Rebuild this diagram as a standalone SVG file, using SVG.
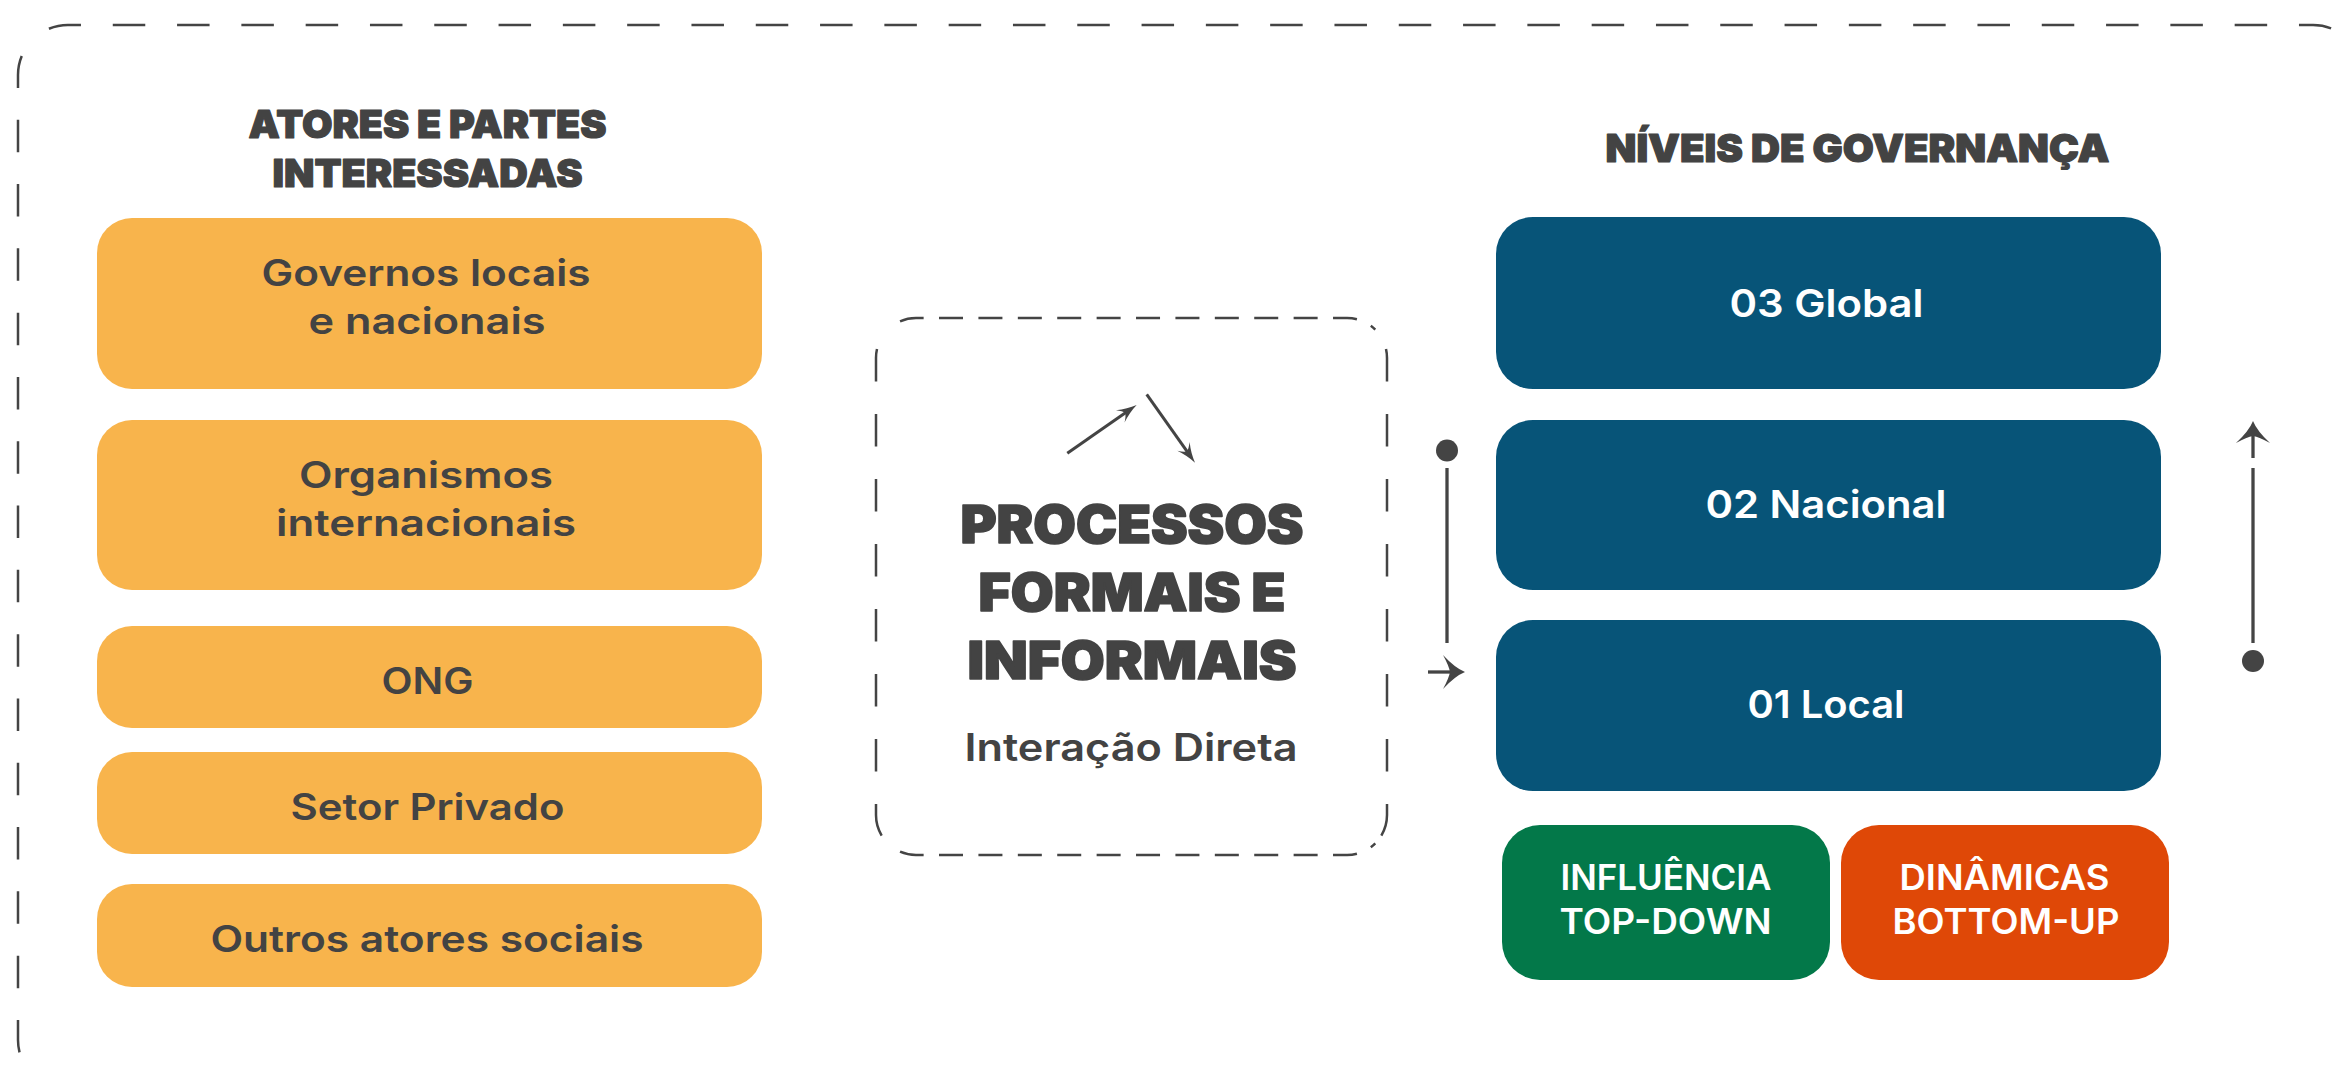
<svg xmlns="http://www.w3.org/2000/svg" width="2343" height="1079" viewBox="0 0 2343 1079">
  <style>
    text { font-family: Inter, "Noto Sans", "DejaVu Sans", sans-serif; }
    .title { font-size: 39px; font-weight: 900; fill: #434343; stroke: #434343; stroke-width: 1.2; stroke-linejoin: round; }
    .big { font-size: 52px; font-weight: 900; fill: #434343; stroke: #434343; stroke-width: 1.6; stroke-linejoin: round; }
    .sub { font-size: 38px; font-weight: 600; fill: #434343; }
    .actor rect { fill: #F8B44C; }
    .actor text { font-size: 37px; font-weight: 600; fill: #434343; }
    .level rect { fill: #075478; }
    .level text { font-size: 38px; font-weight: 600; fill: #FFFFFF; }
    .tag text { font-size: 35px; font-weight: 600; fill: #FFFFFF; }
    .frame { fill: none; stroke: #444444; stroke-width: 2.5; }
    .line { fill: none; stroke: #444444; stroke-width: 3.3; }
    .thin { fill: none; stroke: #444444; stroke-width: 3; }
    .dot { fill: #444444; }
  </style>
  <defs>
    <!-- curved arrowheads; tip sits ahead of the line end -->
    <marker id="headBig" viewBox="-13 -18 24 36" refX="0" refY="0" markerWidth="24" markerHeight="36" markerUnits="userSpaceOnUse" orient="auto" overflow="visible">
      <path d="M10,0 Q0,-4 -12,-17 Q-6,-6 -5,0 Q-6,6 -12,17 Q0,4 10,0 Z" fill="#444444"/>
    </marker>
    <marker id="headSmall" viewBox="-13 -8 22 16" refX="0" refY="0" markerWidth="22" markerHeight="16" markerUnits="userSpaceOnUse" orient="auto" overflow="visible">
      <path d="M8,0 Q-2,-2 -12,-7.5 Q-7,-3 -6,0 Q-7,3 -12,7.5 Q-2,2 8,0 Z" fill="#444444"/>
    </marker>
  </defs>

  <rect width="2343" height="1079" fill="#FFFFFF"/>

  <!-- outer dashed frame (only top and left sides fall inside the canvas) -->
  <g id="outer-frame" class="frame" stroke-dasharray="32.5 31.8" stroke-dashoffset="44.6">
    <path d="M32.6,39.6 A50,50 0 0 1 68,25 L2313,25 A50,50 0 0 1 2348.4,39.6"/>
    <path d="M32.6,39.6 A50,50 0 0 0 18,75 L18,1040 A50,50 0 0 0 32.6,1075.4"/>
  </g>

  <!-- left column: actors -->
  <g id="actors-title">
    <text class="title" x="248.5" y="138" textLength="358" lengthAdjust="spacingAndGlyphs">ATORES E PARTES</text>
    <text class="title" x="272.5" y="187" textLength="310" lengthAdjust="spacingAndGlyphs">INTERESSADAS</text>
  </g>
  <g id="actor-governos" class="actor">
    <rect x="97" y="218" width="665" height="171" rx="35"/>
    <text x="261.5" y="286" textLength="329" lengthAdjust="spacingAndGlyphs">Governos locais</text>
    <text x="308.5" y="334" textLength="237" lengthAdjust="spacingAndGlyphs">e nacionais</text>
  </g>
  <g id="actor-organismos" class="actor">
    <rect x="97" y="420" width="665" height="170" rx="35"/>
    <text x="299" y="488" textLength="254" lengthAdjust="spacingAndGlyphs">Organismos</text>
    <text x="276" y="536" textLength="300" lengthAdjust="spacingAndGlyphs">internacionais</text>
  </g>
  <g id="actor-ong" class="actor">
    <rect x="97" y="626" width="665" height="102" rx="35"/>
    <text x="381.5" y="694" textLength="92" lengthAdjust="spacingAndGlyphs">ONG</text>
  </g>
  <g id="actor-setor-privado" class="actor">
    <rect x="97" y="752" width="665" height="102" rx="35"/>
    <text x="290.5" y="820" textLength="274" lengthAdjust="spacingAndGlyphs">Setor Privado</text>
  </g>
  <g id="actor-outros" class="actor">
    <rect x="97" y="884" width="665" height="103" rx="35"/>
    <text x="210.5" y="952" textLength="433" lengthAdjust="spacingAndGlyphs">Outros atores sociais</text>
  </g>

  <!-- centre: processes box -->
  <g id="processos">
    <g class="frame">
      <path d="M887.7,329.7 A40,40 0 0 1 916,318 L1347,318 A40,40 0 0 1 1375.3,329.7" stroke-dasharray="24 15.4" stroke-dashoffset="24.4"/>
      <path d="M887.7,843.3 A40,40 0 0 0 916,855 L1347,855 A40,40 0 0 0 1375.3,843.3" stroke-dasharray="24 15.4" stroke-dashoffset="24.4"/>
      <path d="M887.7,329.7 A40,40 0 0 0 876,358 L876,815 A40,40 0 0 0 887.7,843.3" stroke-dasharray="32.5 32.5" stroke-dashoffset="42.6"/>
      <path d="M1375.3,329.7 A40,40 0 0 1 1387,358 L1387,815 A40,40 0 0 1 1375.3,843.3" stroke-dasharray="32.5 32.5" stroke-dashoffset="42.6"/>
    </g>
    <text class="big" x="960.5" y="543" textLength="343" lengthAdjust="spacingAndGlyphs">PROCESSOS</text>
    <text class="big" x="978.5" y="611" textLength="307" lengthAdjust="spacingAndGlyphs">FORMAIS E</text>
    <text class="big" x="967.5" y="679" textLength="329" lengthAdjust="spacingAndGlyphs">INFORMAIS</text>
    <text class="sub" x="964.5" y="761" textLength="333" lengthAdjust="spacingAndGlyphs">Interação Direta</text>
  </g>

  <!-- right column: governance levels -->
  <g id="levels-title">
    <text class="title" x="1605.5" y="162" textLength="504" lengthAdjust="spacingAndGlyphs">NÍVEIS DE GOVERNANÇA</text>
  </g>
  <g id="level-global" class="level">
    <rect x="1496" y="217" width="665" height="172" rx="37"/>
    <text x="1729.5" y="317" textLength="194" lengthAdjust="spacingAndGlyphs">03 Global</text>
  </g>
  <g id="level-nacional" class="level">
    <rect x="1496" y="420" width="665" height="170" rx="37"/>
    <text x="1705.5" y="518" textLength="241" lengthAdjust="spacingAndGlyphs">02 Nacional</text>
  </g>
  <g id="level-local" class="level">
    <rect x="1496" y="620" width="665" height="171" rx="37"/>
    <text x="1747.5" y="718" textLength="157" lengthAdjust="spacingAndGlyphs">01 Local</text>
  </g>
  <g id="tag-top-down" class="tag">
    <rect x="1502" y="825" width="328" height="155" rx="38" fill="#037849"/>
    <text x="1560.5" y="890" textLength="211" lengthAdjust="spacingAndGlyphs">INFLUÊNCIA</text>
    <text x="1559.5" y="934" textLength="212" lengthAdjust="spacingAndGlyphs">TOP-DOWN</text>
  </g>
  <g id="tag-bottom-up" class="tag">
    <rect x="1841" y="825" width="328" height="155" rx="38" fill="#DF4807"/>
    <text x="1899.5" y="890" textLength="210" lengthAdjust="spacingAndGlyphs">DINÂMICAS</text>
    <text x="1892.5" y="934" textLength="227" lengthAdjust="spacingAndGlyphs">BOTTOM-UP</text>
  </g>

  <!-- connectors -->
  <g id="connectors">
    <!-- interaction arrows inside the processes box -->
    <line class="thin" x1="1067.3" y1="453.3" x2="1130.1" y2="409.6" marker-end="url(#headSmall)"/>
    <line class="thin" x1="1146.7" y1="394.3" x2="1190.4" y2="456.2" marker-end="url(#headSmall)"/>
    <!-- top-down: from the top, into the local level -->
    <circle class="dot" cx="1447" cy="450.5" r="11"/>
    <line class="line" x1="1447" y1="468" x2="1447" y2="643"/>
    <line class="line" x1="1428" y1="672" x2="1455" y2="672" marker-end="url(#headBig)"/>
    <!-- bottom-up: from the bottom, upwards -->
    <circle class="dot" cx="2253" cy="661" r="11"/>
    <line class="line" x1="2253" y1="643" x2="2253" y2="468"/>
    <line class="line" x1="2253" y1="458" x2="2253" y2="431" marker-end="url(#headBig)"/>
  </g>
</svg>
